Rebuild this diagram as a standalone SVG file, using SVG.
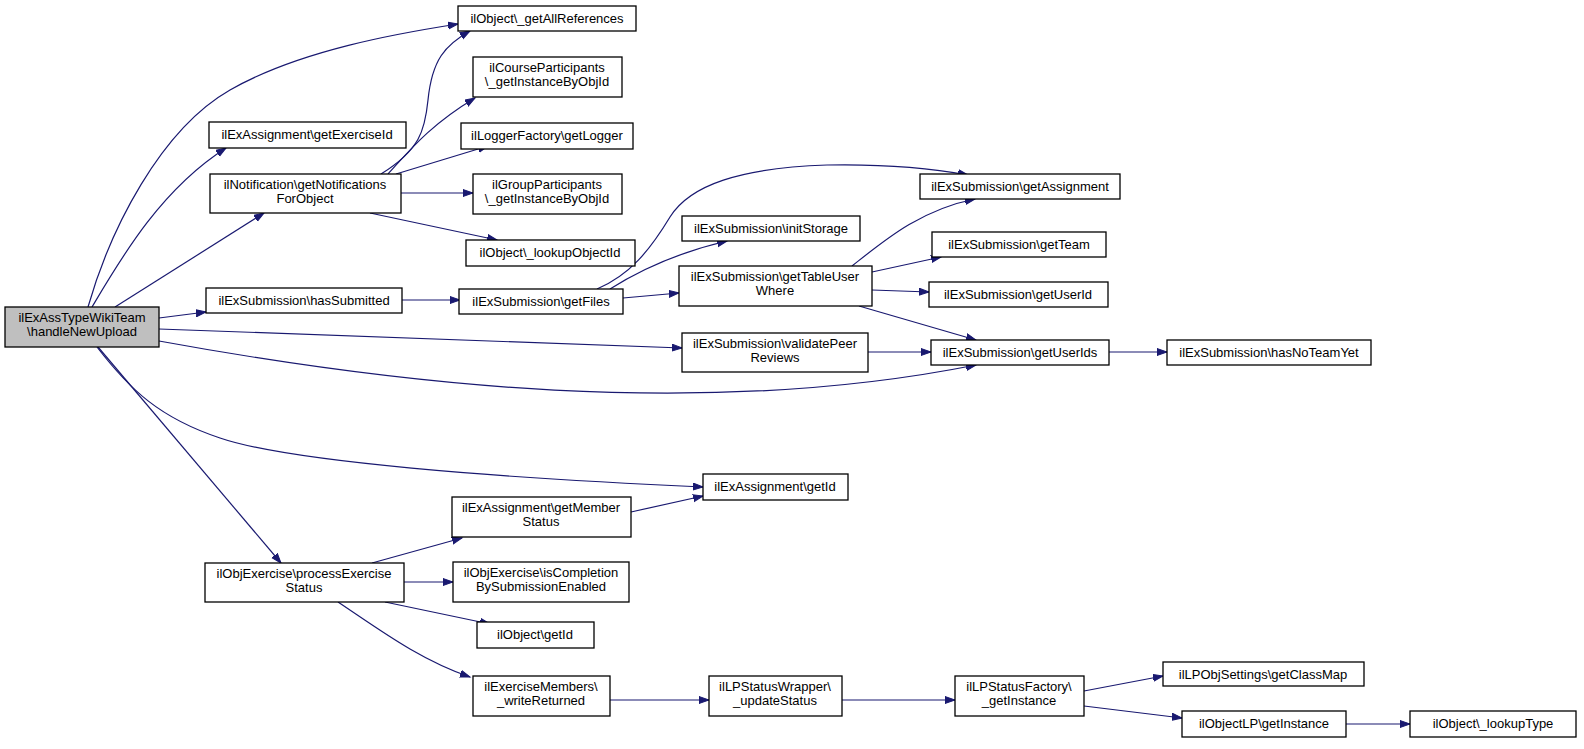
<svg xmlns="http://www.w3.org/2000/svg" width="1584" height="749" viewBox="0 0 1584 749">
<defs>
<marker id="ah" markerUnits="userSpaceOnUse" markerWidth="12" markerHeight="9" refX="10" refY="4" orient="auto"><path d="M0,0.5 L10,4 L0,7.5 z" fill="#191970" stroke="#191970" stroke-width="1"/></marker>
</defs>
<style>
rect{fill:#ffffff;stroke:#000000;stroke-width:1.3}
#n0 rect{fill:#bfbfbf}
text{font-family:"Liberation Sans",Arial,sans-serif;font-size:13px;text-anchor:middle;fill:#000000}
#edges path{fill:none;stroke:#191970;stroke-width:1.2;marker-end:url(#ah)}
</style>
<rect x="0" y="0" width="1584" height="749" style="fill:#ffffff;stroke:none"/>
<g id="edges">
<path d="M88,307 C110,230 160,130 230,90 C300,50 400,33 458,24"/>
<path d="M92,307 C120,260 160,190 226,148"/>
<path d="M115,307 L264,213"/>
<path d="M159,318 L206,312"/>
<path d="M159,329 L682,348"/>
<path d="M159,341 C400,385 700,420 976,365"/>
<path d="M97,347 C130,390 160,418 220,438 C290,462 500,478 703,487"/>
<path d="M98,347 L281,563"/>
<path d="M381,174 C420,150 425,130 428,100 C432,60 445,45 470,31"/>
<path d="M388,174 C410,150 430,125 475,98"/>
<path d="M396,174 L488,146"/>
<path d="M401,193 L473,193"/>
<path d="M370,213 L497,240"/>
<path d="M402,300 L460,300"/>
<path d="M597,289 C630,275 650,250 670,217 C690,185 740,168 827,165 C880,164 930,168 968,175"/>
<path d="M610,289 C640,270 680,252 727,241"/>
<path d="M623,298 L679,293"/>
<path d="M852,266 C885,240 920,210 975,199"/>
<path d="M872,272 L941,257"/>
<path d="M872,290 L929,292"/>
<path d="M859,306 L976,340"/>
<path d="M868,352 L931,352"/>
<path d="M1109,352 L1167,352"/>
<path d="M631,512 L703,496"/>
<path d="M372,563 L462,538"/>
<path d="M404,582 L453,582"/>
<path d="M385,602 L490,624"/>
<path d="M338,602 C380,630 420,660 470,677"/>
<path d="M610,700 L709,700"/>
<path d="M842,700 L955,700"/>
<path d="M1084,691 L1163,676"/>
<path d="M1084,706 L1182,718"/>
<path d="M1346,724 L1410,724"/>
</g>
<g id="n0"><rect x="5" y="307" width="154" height="40"/><text x="82" y="322">ilExAssTypeWikiTeam</text><text x="82" y="336">\handleNewUpload</text></g>
<g id="n1"><rect x="458" y="6" width="178" height="25"/><text x="547" y="23">ilObject\_getAllReferences</text></g>
<g id="n2"><rect x="473" y="57" width="149" height="40"/><text x="547" y="72">ilCourseParticipants</text><text x="547" y="86">\_getInstanceByObjId</text></g>
<g id="n3"><rect x="461" y="123" width="172" height="26"/><text x="547" y="140">ilLoggerFactory\getLogger</text></g>
<g id="n4"><rect x="473" y="174" width="149" height="40"/><text x="547" y="189">ilGroupParticipants</text><text x="547" y="203">\_getInstanceByObjId</text></g>
<g id="n5"><rect x="466" y="240" width="169" height="26"/><text x="550" y="257">ilObject\_lookupObjectId</text></g>
<g id="n6"><rect x="209" y="122" width="197" height="26"/><text x="307" y="139">ilExAssignment\getExerciseId</text></g>
<g id="n7"><rect x="210" y="174" width="191" height="39"/><text x="305" y="189">ilNotification\getNotifications</text><text x="305" y="203">ForObject</text></g>
<g id="n8"><rect x="206" y="288" width="196" height="25"/><text x="304" y="305">ilExSubmission\hasSubmitted</text></g>
<g id="n9"><rect x="459" y="289" width="164" height="25"/><text x="541" y="306">ilExSubmission\getFiles</text></g>
<g id="n10"><rect x="682" y="216" width="178" height="25"/><text x="771" y="233">ilExSubmission\initStorage</text></g>
<g id="n11"><rect x="679" y="266" width="193" height="40"/><text x="775" y="281">ilExSubmission\getTableUser</text><text x="775" y="295">Where</text></g>
<g id="n12"><rect x="920" y="174" width="200" height="25"/><text x="1020" y="191">ilExSubmission\getAssignment</text></g>
<g id="n13"><rect x="932" y="232" width="174" height="25"/><text x="1019" y="249">ilExSubmission\getTeam</text></g>
<g id="n14"><rect x="929" y="282" width="179" height="25"/><text x="1018" y="299">ilExSubmission\getUserId</text></g>
<g id="n15"><rect x="682" y="333" width="186" height="39"/><text x="775" y="348">ilExSubmission\validatePeer</text><text x="775" y="362">Reviews</text></g>
<g id="n16"><rect x="931" y="340" width="178" height="25"/><text x="1020" y="357">ilExSubmission\getUserIds</text></g>
<g id="n17"><rect x="1167" y="340" width="204" height="25"/><text x="1269" y="357">ilExSubmission\hasNoTeamYet</text></g>
<g id="n18"><rect x="703" y="474" width="145" height="26"/><text x="775" y="491">ilExAssignment\getId</text></g>
<g id="n19"><rect x="452" y="497" width="179" height="40"/><text x="541" y="512">ilExAssignment\getMember</text><text x="541" y="526">Status</text></g>
<g id="n20"><rect x="205" y="563" width="199" height="39"/><text x="304" y="578">ilObjExercise\processExercise</text><text x="304" y="592">Status</text></g>
<g id="n21"><rect x="453" y="562" width="176" height="40"/><text x="541" y="577">ilObjExercise\isCompletion</text><text x="541" y="591">BySubmissionEnabled</text></g>
<g id="n22"><rect x="477" y="622" width="117" height="26"/><text x="535" y="639">ilObject\getId</text></g>
<g id="n23"><rect x="473" y="676" width="137" height="40"/><text x="541" y="691">ilExerciseMembers\</text><text x="541" y="705">_writeReturned</text></g>
<g id="n24"><rect x="709" y="676" width="133" height="40"/><text x="775" y="691">ilLPStatusWrapper\</text><text x="775" y="705">_updateStatus</text></g>
<g id="n25"><rect x="955" y="676" width="129" height="40"/><text x="1019" y="691">ilLPStatusFactory\</text><text x="1019" y="705">_getInstance</text></g>
<g id="n26"><rect x="1163" y="662" width="201" height="24"/><text x="1263" y="679">ilLPObjSettings\getClassMap</text></g>
<g id="n27"><rect x="1182" y="711" width="164" height="26"/><text x="1264" y="728">ilObjectLP\getInstance</text></g>
<g id="n28"><rect x="1410" y="711" width="166" height="26"/><text x="1493" y="728">ilObject\_lookupType</text></g>
</svg>
